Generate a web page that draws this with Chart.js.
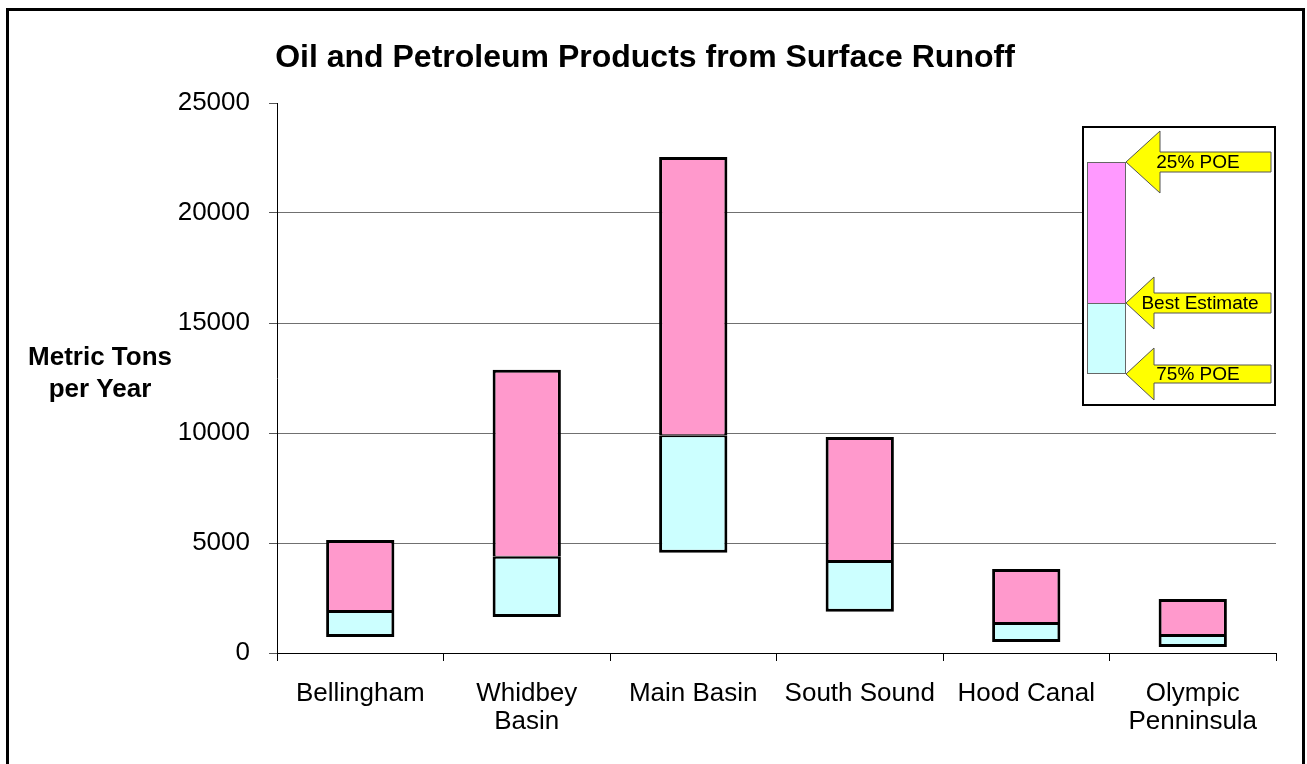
<!DOCTYPE html>
<html>
<head>
<meta charset="utf-8">
<script src="https://cdn.jsdelivr.net/npm/chart.js@4/dist/chart.umd.min.js"></script>
<style>
body { margin: 0; background: #fff; }
</style>
</head>
<body>
<canvas id="runoff-chart" width="1307" height="764"></canvas>
<script>
Chart.defaults.font.family = '"Liberation Sans", Arial, sans-serif';
Chart.defaults.color = '#000';

// regions
var regions = [['Bellingham'], ['Whidbey', 'Basin'], ['Main Basin'], ['South Sound'], ['Hood Canal'], ['Olympic', 'Penninsula']];
// metric tons per year
var poe75 = [730, 1640, 4560, 1870, 500, 270];
var bestEst = [1910, 4370, 9900, 4180, 1360, 820];
var poe25 = [5140, 12870, 22550, 9820, 3820, 2460];
var yTicks = [0, 5000, 10000, 15000, 20000, 25000];
var chartTitle = 'Oil and Petroleum Products from Surface Runoff';

var lowerBars = [];
var upperBars = [];
for (var i = 0; i < regions.length; i++) {
	lowerBars.push([poe75[i], bestEst[i]]);
	upperBars.push([bestEst[i], poe25[i]]);
}

// frame, titles and the arrow key in the top right
var extras = {
	id: 'extras',
	afterDraw: function(chart) {
		var c = chart.ctx;
		c.save();
		c.strokeStyle = '#000';
		c.lineWidth = 3;
		c.strokeRect(7.5, 9.5, 1296, 770);

		c.fillStyle = '#000';
		c.textAlign = 'center';
		c.textBaseline = 'middle';
		c.font = 'bold 32px "Liberation Sans", Arial, sans-serif';
		c.fillText(chartTitle, 645, 58);
		c.font = 'bold 26px "Liberation Sans", Arial, sans-serif';
		c.fillText('Metric Tons', 100, 358);
		c.fillText('per Year', 100, 390);

		// key box
		c.lineWidth = 2;
		c.fillStyle = '#fff';
		c.fillRect(1083, 127, 192, 278);
		c.strokeRect(1083, 127, 192, 278);

		c.lineWidth = 1;
		c.strokeStyle = '#666';
		c.fillStyle = '#ff99ff';
		c.fillRect(1087, 162, 39, 141);
		c.strokeRect(1087.5, 162.5, 38, 141);
		c.fillStyle = '#ccffff';
		c.fillRect(1087, 303, 39, 71);
		c.strokeRect(1087.5, 303.5, 38, 70);

		var arrows = [
			{ y: 162, back: 1160, half: 31, shaft: 10, text: '25% POE', tx: 1198 },
			{ y: 303, back: 1154, half: 26, shaft: 10, text: 'Best Estimate', tx: 1200 },
			{ y: 374, back: 1154, half: 26, shaft: 9, text: '75% POE', tx: 1198 }
		];
		c.font = '19px "Liberation Sans", Arial, sans-serif';
		arrows.forEach(function(a) {
			c.beginPath();
			c.moveTo(1126, a.y);
			c.lineTo(a.back, a.y - a.half);
			c.lineTo(a.back, a.y - a.shaft);
			c.lineTo(1271, a.y - a.shaft);
			c.lineTo(1271, a.y + a.shaft);
			c.lineTo(a.back, a.y + a.shaft);
			c.lineTo(a.back, a.y + a.half);
			c.closePath();
			c.fillStyle = '#ffff00';
			c.fill();
			c.strokeStyle = '#555';
			c.stroke();
			c.fillStyle = '#000';
			c.fillText(a.text, a.tx, a.y + 1);
		});
		c.restore();
	}
};

var ctx = document.getElementById('runoff-chart').getContext('2d');
var runoffChart = new Chart(ctx, {
	type: 'bar',
	data: {
		labels: regions,
		datasets: [
			{
				label: 'Best Estimate to 75% POE',
				data: lowerBars,
				backgroundColor: '#ccffff',
				borderColor: '#000',
				borderWidth: { left: 3, right: 3, bottom: 3, top: 2 },
				borderSkipped: false
			},
			{
				label: '25% POE to Best Estimate',
				data: upperBars,
				backgroundColor: '#ff99cc',
				borderColor: '#000',
				borderWidth: { left: 3, right: 3, bottom: 1, top: 3 },
				borderSkipped: false
			}
		]
	},
	options: {
		responsive: false,
		animation: false,
		grouped: false,
		barPercentage: 0.41,
		categoryPercentage: 1,
		layout: {
			padding: { left: 0, right: 31, top: 103, bottom: 0 }
		},
		plugins: {
			legend: { display: false },
			tooltip: { enabled: false }
		},
		scales: {
			x: {
				offset: true,
				grid: {
					offset: true,
					drawOnChartArea: false,
					tickLength: 8,
					color: '#000'
				},
				border: { color: '#000', width: 1 },
				ticks: {
					font: { size: 26, lineHeight: 1.08 },
					padding: 19,
					maxRotation: 0,
					autoSkip: false
				},
				afterFit: function(scale) { scale.height = 111; }
			},
			y: {
				min: 0,
				max: 25000,
				afterBuildTicks: function(scale) {
					scale.ticks = yTicks.map(function(v) { return { value: v }; });
				},
				grid: {
					tickLength: 8,
					tickColor: '#555',
					color: function(c) {
						return c.tick && c.tick.value === 25000 ? 'rgba(0,0,0,0)' : '#707070';
					}
				},
				border: { color: '#000', width: 1 },
				ticks: {
					font: { size: 26 },
					padding: 19,
					callback: function(value) { return String(value); }
				},
				afterFit: function(scale) { scale.width = 277; }
			}
		}
	},
	plugins: [extras]
});
</script>
</body>
</html>
